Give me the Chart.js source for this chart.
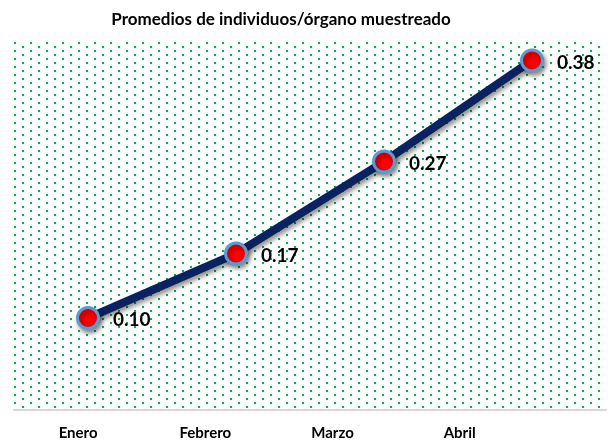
<!DOCTYPE html>
<html>
<head>
<meta charset="utf-8">
<script src="https://cdn.jsdelivr.net/npm/chart.js@4"></script>
<style>
  html, body { margin: 0; padding: 0; background: #fff; }
  #wrap { width: 610px; height: 445px; }
</style>
</head>
<body>
<div id="wrap"><canvas id="chart"></canvas></div>
<script>
// datos del gráfico
const meses = ['Enero', 'Febrero', 'Marzo', 'Abril'];
const promedios = [0.10, 0.17, 0.27, 0.38];
const titulo = 'Promedios de individuos/órgano muestreado';

// fondo punteado verde del área de trazado
const makePattern = () => {
  const c = document.createElement('canvas');
  c.width = 16; c.height = 8;
  const g = c.getContext('2d');
  g.fillStyle = '#00b050';
  g.fillRect(0, 0, 2, 2);
  g.fillRect(8, 4, 2, 2);
  return c;
};

const fondo = {
  id: 'fondo',
  beforeDraw(chart) {
    const { ctx, chartArea: a } = chart;
    ctx.save();
    ctx.fillStyle = ctx.createPattern(makePattern(), 'repeat');
    ctx.translate(a.left, a.top);
    ctx.fillRect(0, 0, a.right - a.left - 2, a.bottom - a.top - 2);
    ctx.restore();
    // título
    ctx.save();
    ctx.font = 'bold 17px Lato';
    ctx.fillStyle = '#000';
    ctx.textAlign = 'center';
    ctx.textBaseline = 'middle';
    ctx.fillText(titulo, 281, 20);
    ctx.restore();
  }
};

// sombra de la línea
const sombra = {
  id: 'sombra',
  beforeDatasetDraw(chart) {
    const ctx = chart.ctx;
    ctx.save();
    ctx.shadowColor = 'rgba(0,0,0,0.45)';
    ctx.shadowBlur = 5;
    ctx.shadowOffsetX = 2;
    ctx.shadowOffsetY = 3;
  },
  afterDatasetDraw(chart) {
    chart.ctx.restore();
  }
};

// etiquetas de valores
const etiquetas = {
  id: 'etiquetas',
  afterDatasetsDraw(chart) {
    const ctx = chart.ctx;
    const meta = chart.getDatasetMeta(0);
    ctx.save();
    ctx.font = 'bold 19px Lato';
    ctx.fillStyle = '#000';
    ctx.textAlign = 'left';
    ctx.textBaseline = 'middle';
    meta.data.forEach((pt, i) => {
      ctx.fillText(promedios[i].toFixed(2), pt.x + 25, pt.y + 2);
    });
    ctx.restore();
  }
};

new Chart(document.getElementById('chart'), {
  type: 'line',
  data: {
    labels: meses,
    datasets: [{
      data: promedios,
      borderColor: '#0a2260',
      borderWidth: 8,
      tension: 0,
      pointRadius: 10.5,
      pointBorderWidth: 3,
      pointBackgroundColor: '#ff0000',
      pointBorderColor: '#5b9bd5'
    }]
  },
  options: {
    responsive: true,
    maintainAspectRatio: false,
    animation: false,
    layout: { autoPadding: false, padding: { top: 42, left: 14, right: 4, bottom: 0 } },
    plugins: {
      legend: { display: false },
      title: { display: false },
      tooltip: { enabled: false }
    },
    scales: {
      x: { type: 'category', display: false, offset: true },
      x2: {
        type: 'linear',
        position: 'bottom',
        min: -0.504,
        max: 4.15,
        afterBuildTicks: s => { s.ticks = meses.map((m, i) => ({ value: i })); },
        afterFit: s => { s.height = 35; },
        grid: { display: false },
        border: { color: '#d9d9d9', width: 2 },
        ticks: {
          padding: 6,
          color: '#000',
          font: { family: 'Lato', size: 15, weight: 'bold' },
          callback: v => meses[v] ?? ''
        }
      },
      y: { display: false, min: 0, max: 0.4 }
    }
  },
  plugins: [fondo, sombra, etiquetas]
});
</script>
</body>
</html>
